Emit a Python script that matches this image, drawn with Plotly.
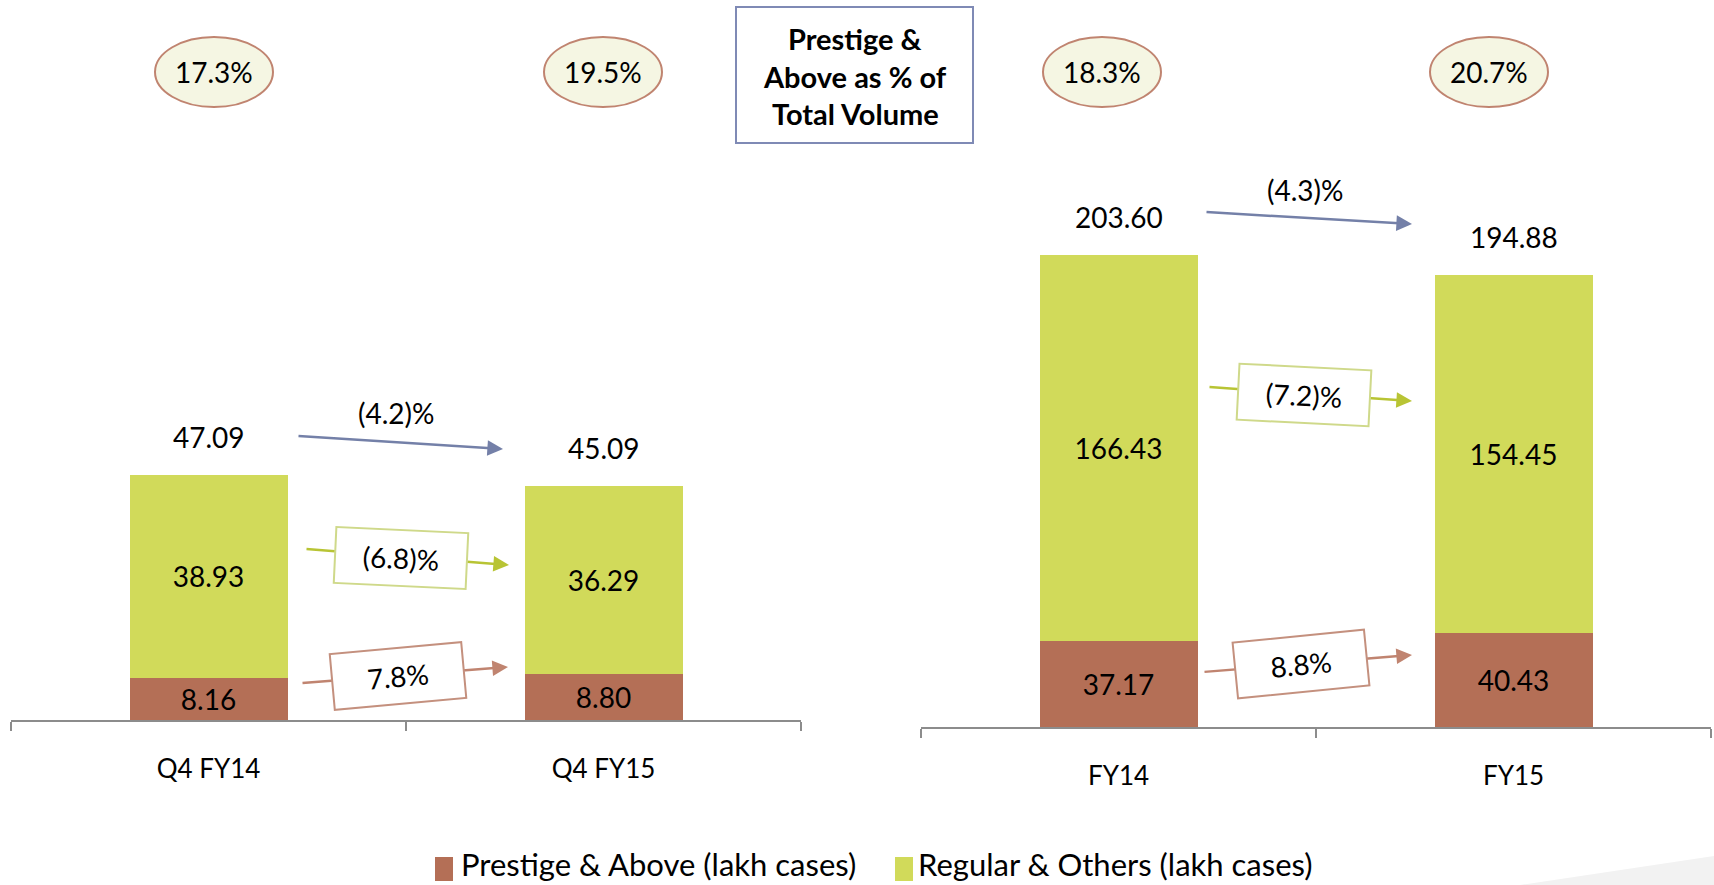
import plotly.graph_objects as go

W, H = 1714, 885
FONT = "Lato"

# ---------------- data ----------------
quarter_cats = ["Q4 FY14", "Q4 FY15"]
quarter_prestige = [8.16, 8.80]
quarter_regular = [38.93, 36.29]
quarter_total = [47.09, 45.09]
quarter_share = ["17.3%", "19.5%"]
quarter_growth = ["(4.2)%", "(6.8)%", "7.8%"]      # total, regular, prestige

year_cats = ["FY14", "FY15"]
year_prestige = [37.17, 40.43]
year_regular = [166.43, 154.45]
year_total = [203.60, 194.88]
year_share = ["18.3%", "20.7%"]
year_growth = ["(4.3)%", "(7.2)%", "8.8%"]         # total, regular, prestige

series_names = ["Prestige & Above (lakh cases)", "Regular & Others (lakh cases)"]
title_lines = ["Prestige &", "Above as % of", "Total Volume"]

# ---------------- styles ----------------
C_PRESTIGE = "#B46F56"
C_REGULAR = "#D1DA5A"
C_BLUE = "#7480A8"
C_GREEN = "#B8C434"
C_GREEN_BOX = "#CFD98A"
C_BROWN = "#C08470"
C_BROWN_BOX = "#C4907E"
C_AXIS = "#8C8C8C"


def fx(px):
    return px / W


def fy(py):
    return 1 - py / H


fig = go.Figure()

# ---------------- bars ----------------
panels = [
    ("x", "y", quarter_cats, quarter_prestige, quarter_regular),
    ("x2", "y2", year_cats, year_prestige, year_regular),
]
for xa, ya, cats, pres, reg in panels:
    for name, vals, col in [(series_names[0], pres, C_PRESTIGE), (series_names[1], reg, C_REGULAR)]:
        fig.add_trace(go.Bar(
            x=cats, y=vals, name=name, xaxis=xa, yaxis=ya,
            marker=dict(color=col, line=dict(width=0)),
            width=0.4,
            text=[f"{v:.2f}" for v in vals],
            textposition="inside", insidetextanchor="middle",
            constraintext="none",
            textfont=dict(family=FONT, size=28, color="black"),
            showlegend=False, hoverinfo="skip",
        ))

# ---------------- axes ----------------
axis_common = dict(
    type="category", showline=True, linecolor=C_AXIS, linewidth=1.5,
    ticks="outside", tickson="boundaries", ticklen=9, tickcolor=C_AXIS, tickwidth=1.5,
    tickfont=dict(family=FONT, size=26, color="black"), showgrid=False,
    range=[-0.5, 1.5], fixedrange=True, ticklabelstandoff=25,
)
fig.update_layout(
    xaxis=dict(domain=[fx(11), fx(801)], anchor="y", **axis_common),
    yaxis=dict(domain=[fy(720), fy(100)], range=[0, 620 / 5.2], visible=False, fixedrange=True),
    xaxis2=dict(domain=[fx(921), fx(1711)], anchor="y2", **axis_common),
    yaxis2=dict(domain=[fy(727), fy(100)], range=[0, 627 / 2.32], visible=False, fixedrange=True),
)

annotations = []
shapes = []

# total labels above bars
for xr, yr, cats, tot in [("x", "y", quarter_cats, quarter_total), ("x2", "y2", year_cats, year_total)]:
    for c, t in zip(cats, tot):
        annotations.append(dict(
            xref=xr, yref=yr, x=c, y=t, text=f"{t:.2f}", showarrow=False,
            yanchor="middle", yshift=38, font=dict(family=FONT, size=28, color="black")))

# share ellipses
ellipse_cx = [214, 603, 1102, 1489]
for cx, txt in zip(ellipse_cx, quarter_share + year_share):
    shapes.append(dict(type="circle", xref="paper", yref="paper",
                       x0=fx(cx - 59), x1=fx(cx + 59), y0=fy(107), y1=fy(37),
                       fillcolor="#F5F6E3", line=dict(color="#C08470", width=2)))
    annotations.append(dict(xref="paper", yref="paper", x=fx(cx), y=fy(72), text=txt,
                            showarrow=False, xanchor="center", yanchor="middle",
                            font=dict(family=FONT, size=28, color="black")))

# title box
shapes.append(dict(type="rect", xref="paper", yref="paper",
                   x0=fx(736), x1=fx(973), y0=fy(143), y1=fy(7),
                   fillcolor="white", line=dict(color="#7F8AB5", width=2)))
for line, py in zip(title_lines, [38, 76, 114]):
    annotations.append(dict(xref="paper", yref="paper", x=fx(855), y=fy(py), text=f"<b>{line}</b>",
                            showarrow=False, xanchor="center", yanchor="middle",
                            font=dict(family=FONT, size=29, color="black")))

# growth arrows (tail px -> head px)
arrows = [
    ((297, 436), (503, 449), C_BLUE),
    ((305, 549), (509, 565), C_GREEN),
    ((301, 683), (508, 667), C_BROWN),
    ((1205, 212), (1412, 224), C_BLUE),
    ((1208, 387), (1412, 401), C_GREEN),
    ((1203, 672), (1412, 655), C_BROWN),
]
for (tx, ty), (hx, hy), col in arrows:
    annotations.append(dict(xref="paper", yref="paper", x=fx(hx), y=fy(hy),
                            axref="pixel", ayref="pixel", ax=tx - hx, ay=ty - hy,
                            text="", showarrow=True, arrowhead=2, arrowsize=1.25,
                            arrowwidth=2.5, arrowcolor=col, standoff=0))

# growth labels
plain_labels = [((396, 413), quarter_growth[0]), ((1305, 190), year_growth[0])]
for (px, py), txt in plain_labels:
    annotations.append(dict(xref="paper", yref="paper", x=fx(px), y=fy(py), text=txt,
                            showarrow=False, xanchor="center", yanchor="middle",
                            font=dict(family=FONT, size=28, color="black")))

boxed_labels = [
    ((401, 558), quarter_growth[1], C_GREEN_BOX, 2.7),
    ((398, 676), quarter_growth[2], C_BROWN_BOX, -5.2),
    ((1304, 395), year_growth[1], C_GREEN_BOX, 2.9),
    ((1301, 664), year_growth[2], C_BROWN_BOX, -5.6),
]
for (px, py), txt, col, ang in boxed_labels:
    annotations.append(dict(xref="paper", yref="paper", x=fx(px), y=fy(py), text=txt,
                            showarrow=False, xanchor="center", yanchor="middle",
                            textangle=ang, width=128, height=52, bgcolor="white",
                            bordercolor=col, borderwidth=2, borderpad=1,
                            font=dict(family=FONT, size=28, color="black")))

# legend (custom)
legend_items = [(435, 453, 459, series_names[0], C_PRESTIGE), (895, 913, 916, series_names[1], C_REGULAR)]
for x0, x1, tx, name, col in legend_items:
    shapes.append(dict(type="rect", xref="paper", yref="paper",
                       x0=fx(x0), x1=fx(x1), y0=fy(881), y1=fy(857),
                       fillcolor=col, line=dict(width=0)))
    annotations.append(dict(xref="paper", yref="paper", x=fx(tx), y=fy(864), text=name,
                            showarrow=False, xanchor="left", yanchor="middle",
                            font=dict(family=FONT, size=31, color="black")))

# decorative wedge bottom-right
shapes.append(dict(type="path", xref="paper", yref="paper",
                   path=f"M {fx(1520)},{fy(885)} L {fx(1714)},{fy(856)} L {fx(1714)},{fy(885)} Z",
                   fillcolor="#F2F2F2", line=dict(width=0), layer="below"))

fig.update_layout(
    width=W, height=H, margin=dict(l=0, r=0, t=0, b=0),
    paper_bgcolor="white", plot_bgcolor="white",
    barmode="stack", showlegend=False,
    annotations=annotations, shapes=shapes,
    font=dict(family=FONT, color="black"),
)

fig.write_html("out.html", config={"displayModeBar": False},
               post_script="document.body.style.margin='0';document.body.style.overflow='hidden';")
